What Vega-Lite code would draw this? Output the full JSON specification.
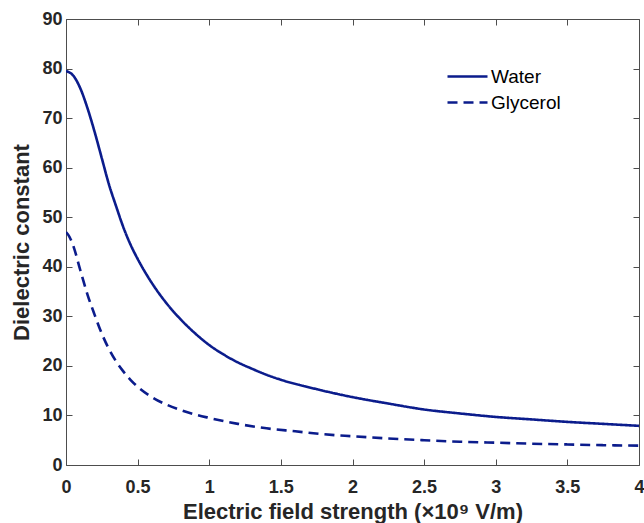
{
  "$schema": "https://vega.github.io/schema/vega-lite/v6.json",
  "width": 573,
  "height": 446,
  "autosize": "none",
  "padding": {"left": 66, "top": 19, "right": 5, "bottom": 58},
  "background": "white",
  "config": {
    "view": {"stroke": "#4d4d4d", "strokeWidth": 1},
    "font": "Liberation Sans",
    "axis": {
      "labelFont": "Liberation Sans",
      "titleFont": "Liberation Sans",
      "labelFontWeight": "bold",
      "titleFontWeight": "bold",
      "labelFontSize": 18,
      "titleFontSize": 22,
      "labelColor": "#262626",
      "titleColor": "#262626",
      "tickColor": "#4d4d4d",
      "domain": false,
      "grid": false,
      "tickSize": -6,
      "labelFlush": false
    }
  },
  "data": {
    "values": [
      {"E": 0, "eps": 79.5, "liquid": "Water"},
      {"E": 0.05, "eps": 78.6, "liquid": "Water"},
      {"E": 0.1, "eps": 76.0, "liquid": "Water"},
      {"E": 0.15, "eps": 72.0, "liquid": "Water"},
      {"E": 0.2, "eps": 67.2, "liquid": "Water"},
      {"E": 0.25, "eps": 61.9, "liquid": "Water"},
      {"E": 0.3, "eps": 56.6, "liquid": "Water"},
      {"E": 0.35, "eps": 52.2, "liquid": "Water"},
      {"E": 0.4, "eps": 48.0, "liquid": "Water"},
      {"E": 0.45, "eps": 44.5, "liquid": "Water"},
      {"E": 0.5, "eps": 41.6, "liquid": "Water"},
      {"E": 0.6, "eps": 36.7, "liquid": "Water"},
      {"E": 0.7, "eps": 32.7, "liquid": "Water"},
      {"E": 0.8, "eps": 29.4, "liquid": "Water"},
      {"E": 0.9, "eps": 26.6, "liquid": "Water"},
      {"E": 1.0, "eps": 24.2, "liquid": "Water"},
      {"E": 1.1, "eps": 22.3, "liquid": "Water"},
      {"E": 1.2, "eps": 20.7, "liquid": "Water"},
      {"E": 1.3, "eps": 19.4, "liquid": "Water"},
      {"E": 1.4, "eps": 18.2, "liquid": "Water"},
      {"E": 1.5, "eps": 17.2, "liquid": "Water"},
      {"E": 1.75, "eps": 15.3, "liquid": "Water"},
      {"E": 2.0, "eps": 13.7, "liquid": "Water"},
      {"E": 2.25, "eps": 12.4, "liquid": "Water"},
      {"E": 2.5, "eps": 11.2, "liquid": "Water"},
      {"E": 2.75, "eps": 10.4, "liquid": "Water"},
      {"E": 3.0, "eps": 9.7, "liquid": "Water"},
      {"E": 3.25, "eps": 9.2, "liquid": "Water"},
      {"E": 3.5, "eps": 8.7, "liquid": "Water"},
      {"E": 3.75, "eps": 8.3, "liquid": "Water"},
      {"E": 4.0, "eps": 7.9, "liquid": "Water"},
      {"E": 0, "eps": 47.0, "liquid": "Glycerol"},
      {"E": 0.025, "eps": 46.0, "liquid": "Glycerol"},
      {"E": 0.05, "eps": 44.3, "liquid": "Glycerol"},
      {"E": 0.1, "eps": 39.3, "liquid": "Glycerol"},
      {"E": 0.15, "eps": 34.4, "liquid": "Glycerol"},
      {"E": 0.2, "eps": 30.3, "liquid": "Glycerol"},
      {"E": 0.25, "eps": 26.5, "liquid": "Glycerol"},
      {"E": 0.3, "eps": 23.4, "liquid": "Glycerol"},
      {"E": 0.35, "eps": 20.9, "liquid": "Glycerol"},
      {"E": 0.4, "eps": 18.9, "liquid": "Glycerol"},
      {"E": 0.45, "eps": 17.2, "liquid": "Glycerol"},
      {"E": 0.5, "eps": 15.8, "liquid": "Glycerol"},
      {"E": 0.6, "eps": 13.7, "liquid": "Glycerol"},
      {"E": 0.7, "eps": 12.2, "liquid": "Glycerol"},
      {"E": 0.8, "eps": 11.1, "liquid": "Glycerol"},
      {"E": 0.9, "eps": 10.2, "liquid": "Glycerol"},
      {"E": 1.0, "eps": 9.5, "liquid": "Glycerol"},
      {"E": 1.2, "eps": 8.3, "liquid": "Glycerol"},
      {"E": 1.4, "eps": 7.4, "liquid": "Glycerol"},
      {"E": 1.6, "eps": 6.8, "liquid": "Glycerol"},
      {"E": 1.8, "eps": 6.2, "liquid": "Glycerol"},
      {"E": 2.0, "eps": 5.8, "liquid": "Glycerol"},
      {"E": 2.25, "eps": 5.35, "liquid": "Glycerol"},
      {"E": 2.5, "eps": 5.0, "liquid": "Glycerol"},
      {"E": 2.75, "eps": 4.7, "liquid": "Glycerol"},
      {"E": 3.0, "eps": 4.5, "liquid": "Glycerol"},
      {"E": 3.25, "eps": 4.3, "liquid": "Glycerol"},
      {"E": 3.5, "eps": 4.15, "liquid": "Glycerol"},
      {"E": 3.75, "eps": 4.0, "liquid": "Glycerol"},
      {"E": 4.0, "eps": 3.9, "liquid": "Glycerol"}
    ]
  },
  "layer": [
    {
      "mark": {"type": "line", "color": "#0b1c8c", "strokeWidth": 2.6, "interpolate": "monotone", "clip": true},
      "encoding": {
        "x": {
          "field": "E", "type": "quantitative",
          "scale": {"domain": [0, 4], "nice": false},
          "axis": {"values": [0, 0.5, 1, 1.5, 2, 2.5, 3, 3.5, 4], "format": "~g", "labelPadding": 19, "titlePadding": 5, "title": "Electric field strength (×10⁹ V/m)"}
        },
        "y": {
          "field": "eps", "type": "quantitative",
          "scale": {"domain": [0, 90], "nice": false},
          "axis": {"values": [0, 10, 20, 30, 40, 50, 60, 70, 80, 90], "labelPadding": 10, "titlePadding": 8, "title": "Dielectric constant"}
        },
        "strokeDash": {
          "field": "liquid", "type": "nominal",
          "scale": {"domain": ["Water", "Glycerol"], "range": [[1, 0], [10, 6]]},
          "legend": {
            "title": null,
            "orient": "none",
            "legendX": 390,
            "legendY": 46,
            "symbolType": "M-2,0H2",
            "symbolSize": 400,
            "symbolStrokeWidth": 2.6,
            "symbolStrokeColor": "#0b1c8c",
            "labelFont": "Liberation Sans",
            "labelFontSize": 19,
            "labelColor": "#000000",
            "labelOffset": 12,
            "rowPadding": 4
          }
        }
      }
    },
    {
      "mark": {"type": "line", "opacity": 0},
      "encoding": {
        "x": {"field": "E", "type": "quantitative", "axis": {"orient": "top", "values": [0, 0.5, 1, 1.5, 2, 2.5, 3, 3.5, 4], "labels": false, "title": null}},
        "y": {"field": "eps", "type": "quantitative", "axis": {"orient": "right", "values": [0, 10, 20, 30, 40, 50, 60, 70, 80, 90], "labels": false, "title": null}}
      }
    }
  ],
  "resolve": {"axis": {"x": "independent", "y": "independent"}}
}
